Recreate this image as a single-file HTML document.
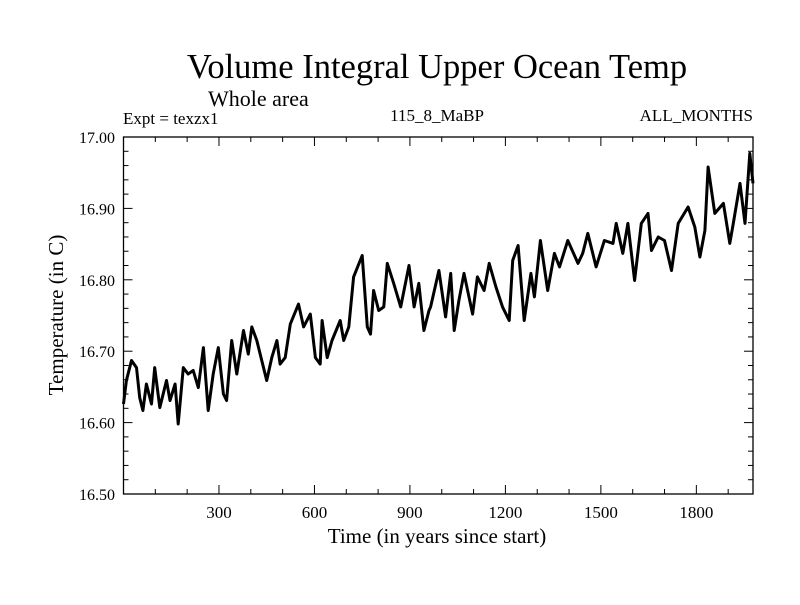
<!DOCTYPE html>
<html><head><meta charset="utf-8"><style>
body{margin:0;background:#fff}
svg text{font-family:"Liberation Serif",serif;fill:#000}
</style></head><body>
<svg id="c" width="800" height="600">
<text x="437" y="78" font-size="34.5" text-anchor="middle">Volume Integral Upper Ocean Temp</text>
<text x="208" y="106" font-size="22">Whole area</text>
<text x="123" y="124" font-size="17">Expt = texzx1</text>
<text x="437" y="121" font-size="17" text-anchor="middle">115_8_MaBP</text>
<text x="753" y="121" font-size="17" text-anchor="end">ALL_MONTHS</text>
<text x="437" y="543" font-size="21" text-anchor="middle">Time (in years since start)</text>
<text transform="translate(63,315) rotate(-90)" font-size="21" text-anchor="middle">Temperature (in C)</text>
<g id="ax"></g>
</svg>
<script>
const years=[0,9,25,41,51,61,72,88,98,114,135,146,162,172,188,203,219,235,251,266,282,298,314,324,340,356,377,392,403,419,450,466,482,492,508,524,550,566,587,603,618,624,640,655,681,692,708,723,750,766,776,786,802,818,829,849,871,897,913,928,944,960,965,991,1012,1028,1039,1054,1070,1097,1112,1133,1149,1170,1191,1212,1223,1240,1259,1280,1291,1310,1333,1354,1370,1396,1428,1443,1459,1485,1511,1538,1548,1569,1585,1606,1627,1648,1659,1680,1700,1722,1743,1774,1795,1811,1827,1837,1858,1885,1905,1916,1937,1953,1968,1978];
const temps=[16.626,16.659,16.687,16.677,16.635,16.617,16.654,16.626,16.677,16.621,16.659,16.631,16.654,16.598,16.677,16.668,16.673,16.649,16.705,16.617,16.668,16.705,16.640,16.631,16.715,16.668,16.729,16.696,16.734,16.715,16.659,16.691,16.715,16.682,16.691,16.738,16.766,16.734,16.752,16.691,16.682,16.743,16.691,16.715,16.743,16.715,16.734,16.804,16.834,16.734,16.724,16.785,16.757,16.762,16.823,16.795,16.762,16.820,16.762,16.795,16.729,16.757,16.762,16.813,16.748,16.809,16.729,16.771,16.809,16.752,16.804,16.785,16.823,16.790,16.762,16.743,16.827,16.848,16.743,16.809,16.776,16.855,16.785,16.837,16.818,16.855,16.823,16.837,16.865,16.818,16.855,16.851,16.879,16.837,16.879,16.799,16.879,16.893,16.841,16.860,16.855,16.813,16.879,16.902,16.874,16.832,16.869,16.958,16.893,16.907,16.851,16.879,16.935,16.879,16.977,16.935];
const xTicks=[300,600,900,1200,1500,1800];
const yTicks=[16.5,16.6,16.7,16.8,16.9,17.0];
const X0=123.5,X1=753,Y0=494,Y1=137,XMAX=1978,YMIN=16.5,YMAX=17.0;
const xs=v=>X0+(v/XMAX)*(X1-X0);
const ys=v=>Y0-(v-YMIN)/(YMAX-YMIN)*(Y0-Y1);
const NS='http://www.w3.org/2000/svg';
const g=document.getElementById('ax');
function mk(t,a){const e=document.createElementNS(NS,t);for(const k in a)e.setAttribute(k,a[k]);g.appendChild(e);return e;}
const fr=mk('rect',{x:X0,y:Y1,width:X1-X0,height:Y0-Y1,fill:'none',stroke:'#000','stroke-width':1.3});


for(let v=100;v<XMAX;v+=100){const x=xs(v);const L=(v%300===0)?9:5;
 const t1=mk('line',{x1:x,x2:x,y1:Y0,y2:Y0-L,stroke:'#000'});
 
 
 const t2=mk('line',{x1:x,x2:x,y1:Y1,y2:Y1+L,stroke:'#000'});
 
 }
xTicks.forEach(v=>{const t=mk('text',{x:xs(v),y:518,'font-size':17,'text-anchor':'middle'});t.textContent=v;
 
 });
for(let i=0;i<=25;i++){const v=YMIN+i*0.02;const y=ys(v);const L=(i%5===0)?9:5;
 const t1=mk('line',{x1:X0,x2:X0+L,y1:y,y2:y,stroke:'#000'});
 
 
 const t2=mk('line',{x1:X1,x2:X1-L,y1:y,y2:y,stroke:'#000'});
 
 }
yTicks.forEach(v=>{const t=mk('text',{x:115,y:ys(v)+6,'font-size':16,'text-anchor':'end'});t.textContent=v.toFixed(2);
 
 });
const p=mk('polyline',{points:years.map((y,i)=>xs(y).toFixed(1)+','+ys(temps[i]).toFixed(1)).join(' '),fill:'none',stroke:'#000','stroke-width':3,'stroke-linejoin':'round'});


</script>
</body></html>
